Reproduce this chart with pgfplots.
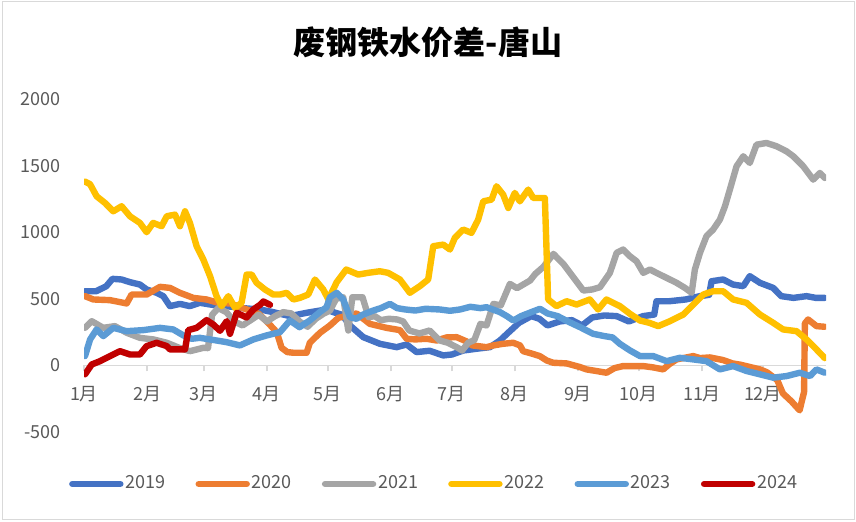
\documentclass[border=0pt]{standalone}
\usepackage{fontspec}
\setmainfont{Noto Sans CJK SC}
\usepackage{pgfplots}
\pgfplotsset{compat=1.18}
\definecolor{cA}{HTML}{4472C4}
\definecolor{cB}{HTML}{ED7D31}
\definecolor{cC}{HTML}{A5A5A5}
\definecolor{cD}{HTML}{FFC000}
\definecolor{cE}{HTML}{5B9BD5}
\definecolor{cF}{HTML}{C00000}
\definecolor{tickgray}{HTML}{595959}
\definecolor{axgray}{HTML}{D9D9D9}
\begin{document}
\begin{tikzpicture}
\path[use as bounding box] (-42pt,-44.5pt) rectangle (386pt,216pt);
\draw[axgray, line width=0.8pt] (-40.8pt,-43.8pt) rectangle (385.3pt,215.3pt);
\begin{axis}[
  at={(0,0)}, anchor=south west,
  scale only axis, width=371pt, height=166.5pt,
  xmin=0, xmax=365, ymin=-500, ymax=2000,
  axis x line=middle, axis y line=left,
  x axis line style={-, draw=axgray, line width=0.7pt},
  y axis line style={draw=none},
  hide obscured x ticks=false, hide obscured y ticks=false,
  xtick={0,31,59,90,120,151,181,212,243,273,304,334},
  xticklabels={1月,2月,3月,4月,5月,6月,7月,8月,9月,10月,11月,12月},
  ytick={-500,0,500,1000,1500,2000},
  yticklabels={-500,0,500,1000,1500,2000},
  ytick style={draw=none},
  xtick style={draw=axgray, line width=0.7pt},
  tick align=outside, major tick length=3pt,
  xticklabel style={font=\fontsize{9}{10}\selectfont, text=tickgray, yshift=-4pt},
  yticklabel style={font=\fontsize{9}{10}\selectfont, text=tickgray, xshift=-5pt},
  every axis plot/.append style={line width=3.2pt, line join=round, line cap=round, no markers},
  legend columns=6,
  legend style={at={(0.472,-0.156)}, anchor=center, draw=none, fill=none,
    font=\fontsize{9}{10}\selectfont, text=tickgray,
    /tikz/every even column/.append style={column sep=14pt},
    /tikz/every odd column/.append style={column sep=0pt},
    /tikz/every node/.append style={inner xsep=1pt}},
  legend image code/.code={\draw[#1, line width=3.2pt, line cap=round] (0pt,0pt) -- (24pt,0pt);},
]
% 2019
\addplot[cA] coordinates {
(0.5,557) (6,557) (11,595) (14,650) (18.5,645) (22.6,625) (27.5,607) (30.8,570) (35.7,545) (39,520) (42.3,445) (47.2,462) (52,445) (57,470) (63,455) (70,445) (78,430) (86.6,420) (93,400) (101.3,370) (109.5,395) (119.3,420) (122.6,400) (127,380) (130.8,300) (137.4,212) (145.6,162) (153.8,137) (158.7,157) (163.6,100) (170,110) (176.7,75) (181,82) (186.6,112) (193,125) (199.7,137) (204.6,187) (209,250) (214,320) (220,370) (224,350) (228,300) (234,330) (240,340) (245,300) (250,360) (256,375) (262,370) (268,330) (275,370) (280.5,382) (281.6,482) (288,482) (296,495) (303,520) (307.5,530) (308.7,632) (314.4,645) (319.3,607) (324.3,595) (327.5,670) (332.5,620) (339,582) (343,520) (349,507) (355.4,520) (360,507) (364.4,507)
};
\addlegendentry{2019}
% 2020
\addplot[cB] coordinates {
(0.5,520) (4.6,495) (12.8,490) (21,465) (23.4,532) (30.8,532) (37.4,590) (42.3,582) (47.2,545) (53.8,507) (60.3,495) (66,470) (72,465) (80,420) (86,387) (91,312) (94.8,250) (97.2,132) (100,100) (103,95) (109.5,95) (111.1,170) (116.1,245) (121,300) (125.1,357) (130,375) (134.1,390) (140.6,312) (148.8,282) (155.4,265) (158.7,200) (163,195) (168.5,200) (173.5,187) (178.3,210) (183.3,212) (188.2,180) (191,150) (198,137) (201.3,150) (206,162) (211.1,170) (214.5,150) (216,107) (220,90) (224.2,70) (227.6,37) (230.8,20) (237.4,15) (241,0) (243.9,-12) (247.2,-30) (252,-42) (257,-55) (261,-20) (265.2,-5) (270,-5) (275.1,-5) (280,-15) (284.9,-30) (288,10) (291.5,45) (299.7,70) (303,55) (307.9,60) (314.4,40) (319,15) (323,5) (327.6,-12) (332.5,-30) (336,-52) (341,-110) (343.8,-210) (348,-270) (352,-337) (354.2,-200) (354.6,315) (356.2,345) (360.3,295) (364.4,290)
};
\addlegendentry{2020}
% 2021
\addplot[cC] coordinates {
(0.5,282) (3.8,332) (9.5,282) (15.2,295) (21,245) (27.5,207) (34.1,195) (40.7,170) (47.2,130) (52.1,107) (58.7,132) (61,130) (63,380) (66,430) (70,400) (74,330) (78,300) (82,340) (86,380) (90,330) (94,370) (98,400) (102,390) (106,330) (110,290) (114,350) (118,390) (121,412) (124,500) (127.5,512) (130,262) (132,512) (134,512) (137,512) (140,362) (143,370) (146,340) (150,350) (154,345) (157,330) (160,262) (165,240) (170,262) (175,187) (179,170) (183.3,137) (186,112) (189,170) (192,190) (195,312) (198,300) (201.4,462) (205,450) (209.5,612) (213,580) (219.4,637) (222,687) (226,740) (230.9,837) (235.8,762) (240.7,662) (245.6,562) (250,570) (253.8,587) (258.7,695) (262,845) (265.2,870) (268.5,820) (271.8,782) (275.1,695) (278.4,720) (281.6,695) (284.9,670) (288.2,645) (291.5,620) (295.6,582) (298.9,545) (300.5,720) (303,845) (306.2,970) (309.5,1020) (312.8,1095) (315.3,1195) (317.7,1320) (321,1495) (324.3,1570) (327.5,1520) (330.8,1657) (335.7,1670) (340.7,1645) (345.6,1607) (348.9,1570) (353.8,1495) (358.7,1395) (362,1445) (364.4,1407)
};
\addlegendentry{2021}
% 2022
\addplot[cD] coordinates {
(0.5,1380) (3,1360) (6.2,1270) (10.3,1220) (14.4,1157) (18.5,1195) (22.6,1120) (27.5,1070) (30.8,1000) (34,1070) (38.2,1045) (40.7,1120) (44.8,1132) (47.2,1045) (49.7,1157) (52.1,1070) (55.4,895) (58.7,795) (62,670) (65.2,520) (67.7,445) (71,520) (74.3,432) (77.5,470) (80,682) (82.5,682) (84.9,620) (89,570) (93.1,532) (96.4,532) (99.7,545) (103,495) (106.2,507) (110.3,532) (113.6,645) (117.7,570) (120.2,495) (124.3,625) (129,720) (134.9,682) (139.8,695) (145.5,707) (149.6,695) (155.4,645) (160.3,545) (165.2,595) (169.3,645) (171.8,895) (176.7,907) (180,870) (182.4,957) (186.5,1020) (190.6,995) (193.9,1095) (196.4,1232) (200.5,1245) (202.9,1345) (206.2,1282) (208.7,1182) (211.9,1295) (214.4,1232) (218.5,1320) (221,1257) (226.7,1257) (228.3,495) (232.4,445) (237.4,482) (242.3,457) (248.8,495) (252.9,420) (257,495) (263.6,445) (268.6,387) (273.5,337) (278,320) (282.5,295) (288.2,332) (294.8,382) (299.7,457) (304.6,532) (309.5,557) (314.4,557) (319.3,495) (325.9,470) (332.5,382) (339,320) (343.9,270) (350.5,257) (355.4,195) (360.3,120) (364.4,55)
};
\addlegendentry{2022}
% 2023
\addplot[cE] coordinates {
(0.5,70) (3,195) (6.2,270) (9.5,220) (14.4,282) (21,257) (29.2,265) (37.4,282) (43.9,270) (48.9,225) (53,200) (57,207) (62,195) (70,175) (76.7,150) (83.3,195) (89.8,225) (96.4,250) (101.3,337) (106,287) (111,337) (116,400) (119.3,437) (121,512) (124.3,545) (127.5,495) (130.8,362) (134,350) (137,380) (142.3,412) (146,430) (150.5,462) (154,430) (158,420) (163,412) (168,425) (175,420) (180,410) (185,420) (190,440) (195,430) (198,437) (204.6,400) (208,370) (211.2,337) (215,370) (220,400) (224.3,425) (228,390) (233,370) (238,330) (244,287) (250.5,237) (256,220) (260,210) (263.6,162) (268.6,112) (273.5,70) (280,70) (286.6,32) (293.1,57) (299.7,45) (306.2,32) (312.8,-30) (319.3,-5) (325.9,-42) (332.5,-67) (339,-92) (345.6,-80) (352.1,-55) (357.1,-80) (360.3,-30) (364.4,-55)
};
\addlegendentry{2023}
% 2024
\addplot[cF] coordinates {
(0.5,-67) (3.8,7) (7.9,32) (12.8,70) (17.7,107) (22.6,82) (27.5,82) (30.8,145) (35.7,170) (40.7,145) (42.3,120) (49.7,120) (51.3,265) (55.4,282) (60.3,340) (63.6,307) (66.9,260) (70.2,332) (71.8,237) (75.1,395) (80,360) (83.3,420) (86.6,455) (88.2,480) (91.5,455)
};
\addlegendentry{2024}
\end{axis}
\node[font=\fontsize{16}{18}\selectfont\bfseries] at (172pt,195pt) {废钢铁水价差-唐山};
\end{tikzpicture}
\end{document}
